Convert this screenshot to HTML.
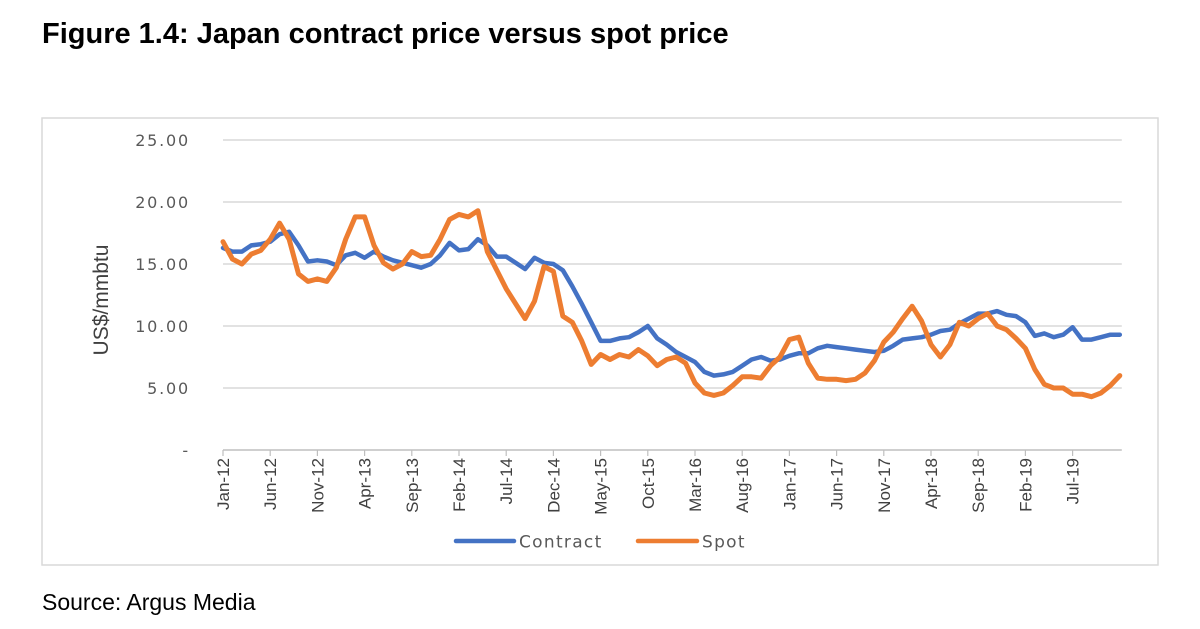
<!DOCTYPE html>
<html><head><meta charset="utf-8"><style>
body{margin:0;background:#fff;width:1200px;height:629px;overflow:hidden;font-family:"Liberation Sans",Arial,sans-serif;}
#title{position:absolute;left:42px;top:18px;font-size:29px;font-weight:bold;color:#000;white-space:nowrap;}
#source{position:absolute;left:42px;top:589px;font-size:23px;color:#000;white-space:nowrap;}
svg{position:absolute;left:0;top:0;}
</style></head><body>
<div id="title">Figure 1.4: Japan contract price versus spot price</div>
<svg id="chart" width="1200" height="629">
<rect x="42" y="118" width="1116" height="447" fill="none" stroke="#d9d9d9" stroke-width="1.5"/>
<g id="grid"></g><g id="yt"></g><g id="xt"></g><g id="lines"></g>
<text x="0" y="0" transform="translate(108,300) rotate(-90)" text-anchor="middle" font-family="'Liberation Sans Narrow','Liberation Sans',sans-serif" font-size="21" fill="#404040">US$/mmbtu</text>
<g>
<line x1="456" y1="541" x2="514" y2="541" stroke="#4472c4" stroke-width="4.5" stroke-linecap="round"/>
<text x="519" y="547.5" font-family="'DejaVu Sans',sans-serif" font-size="17" letter-spacing="1.3" fill="#595959">Contract</text>
<line x1="638" y1="541" x2="697" y2="541" stroke="#ed7d31" stroke-width="4.5" stroke-linecap="round"/>
<text x="702" y="547.5" font-family="'DejaVu Sans',sans-serif" font-size="17" letter-spacing="1.3" fill="#595959">Spot</text>
</g>
</svg>
<div id="source">Source: Argus Media</div>
<script>
const yTicks=[0,5,10,15,20,25];
const yTickLabels=["-","5.00","10.00","15.00","20.00","25.00"];
const xLabels=["Jan-12","Jun-12","Nov-12","Apr-13","Sep-13","Feb-14","Jul-14","Dec-14","May-15","Oct-15","Mar-16","Aug-16","Jan-17","Jun-17","Nov-17","Apr-18","Sep-18","Feb-19","Jul-19"];
const contract=[16.3,16.0,16.0,16.5,16.6,16.8,17.4,17.6,16.5,15.2,15.3,15.2,14.9,15.7,15.9,15.5,16.0,15.6,15.3,15.1,14.9,14.7,15.0,15.7,16.7,16.1,16.2,17.0,16.5,15.6,15.6,15.1,14.6,15.5,15.1,15.0,14.5,13.2,11.8,10.3,8.8,8.8,9.0,9.1,9.5,10.0,9.0,8.5,7.9,7.5,7.1,6.3,6.0,6.1,6.3,6.8,7.3,7.5,7.2,7.3,7.6,7.8,7.8,8.2,8.4,8.3,8.2,8.1,8.0,7.9,8.0,8.4,8.9,9.0,9.1,9.3,9.6,9.7,10.2,10.6,11.0,11.0,11.2,10.9,10.8,10.3,9.2,9.4,9.1,9.3,9.9,8.9,8.9,9.1,9.3,9.3];
const spot=[16.8,15.4,15.0,15.8,16.1,17.0,18.3,17.0,14.2,13.6,13.8,13.6,14.7,17.0,18.8,18.8,16.5,15.1,14.6,15.0,16.0,15.6,15.7,17.0,18.6,19.0,18.8,19.3,16.0,14.5,13.0,11.8,10.6,12.0,14.8,14.4,10.8,10.3,8.8,6.9,7.7,7.3,7.7,7.5,8.1,7.6,6.8,7.3,7.5,7.0,5.4,4.6,4.4,4.6,5.2,5.9,5.9,5.8,6.8,7.5,8.9,9.1,7.0,5.8,5.7,5.7,5.6,5.7,6.2,7.2,8.7,9.5,10.6,11.6,10.4,8.5,7.5,8.5,10.3,10.0,10.6,11.0,10.0,9.7,9.0,8.2,6.5,5.3,5.0,5.0,4.5,4.5,4.3,4.6,5.2,6.0];
const NS="http://www.w3.org/2000/svg";
const x0=223,dx=9.44,yBase=450,yScale=12.4;
function xs(i){return x0+i*dx;}
function ys(v){return yBase-v*yScale;}
function mk(t,a,p){const e=document.createElementNS(NS,t);for(const k in a)e.setAttribute(k,a[k]);p.appendChild(e);return e;}
const grid=document.getElementById('grid'),yt=document.getElementById('yt'),xt=document.getElementById('xt'),lines=document.getElementById('lines');
const xEnd=xs(contract.length-1)+2;
yTicks.forEach((v,k)=>{
  const l=mk('line',{x1:x0,x2:xEnd,y1:ys(v),y2:ys(v),stroke:v===0?'#bfbfbf':'#d9d9d9','stroke-width':1.5},grid);
  
  
  const t=mk('text',{x:190,y:ys(v)+6,'text-anchor':'end','font-family':"'DejaVu Sans',sans-serif",'font-size':16,fill:'#595959','letter-spacing':'1.8'},yt);
  t.textContent=yTickLabels[k];
  
  
});
xLabels.forEach((s,k)=>{
  const x=xs(k*5);
  const tk=mk('line',{x1:x,x2:x,y1:yBase,y2:yBase+6,stroke:'#bfbfbf','stroke-width':1.2},xt);
  
  
  const t=mk('text',{transform:`translate(${x+6},458) rotate(-90)`,'text-anchor':'end','font-family':"'Liberation Sans Narrow','Liberation Sans',sans-serif",'font-size':17,fill:'#404040'},xt);
  t.textContent=s;
  
  
});
function path(arr){return arr.map((v,i)=>(i?'L':'M')+xs(i).toFixed(1)+' '+ys(v).toFixed(1)).join(' ');}
const pc=mk('path',{d:path(contract),fill:'none',stroke:'#4472c4','stroke-width':4.5,'stroke-linejoin':'round','stroke-linecap':'round'},lines);


const ps=mk('path',{d:path(spot),fill:'none',stroke:'#ed7d31','stroke-width':5,'stroke-linejoin':'round','stroke-linecap':'round'},lines);


</script>
</body></html>
